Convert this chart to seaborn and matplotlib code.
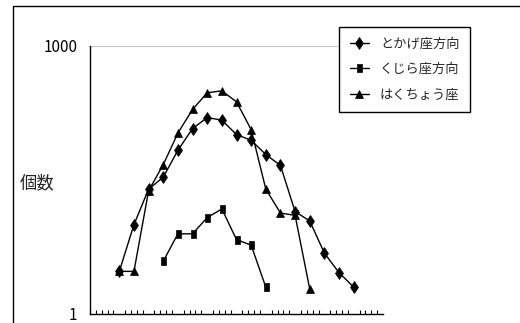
import matplotlib
matplotlib.use('Agg')
import matplotlib.pyplot as plt
import seaborn as sns
import pandas as pd
from matplotlib.lines import Line2D
from matplotlib.patches import Rectangle
from matplotlib.ticker import FixedLocator, MultipleLocator, NullFormatter, NullLocator

# values (log axis, 1..1000)
lizard_x = list(range(2, 19))
lizard_y = [3, 10, 25, 34, 68, 119, 158, 148, 102, 88, 61, 46, 14, 11, 4.8, 2.9, 2.0]
cetus_x = list(range(5, 13))
cetus_y = [3.9, 7.9, 7.9, 12, 15, 6.8, 5.9, 2.0]
cygnus_x = list(range(2, 16))
cygnus_y = [3, 3, 24, 47, 106, 195, 299, 315, 237, 116, 25, 13.5, 12.7, 1.9]
series_names = ["とかげ座方向", "くじら座方向", "はくちょう座"]

df = pd.concat([
    pd.DataFrame({"x": lizard_x, "count": lizard_y, "series": series_names[0]}),
    pd.DataFrame({"x": cetus_x, "count": cetus_y, "series": series_names[1]}),
    pd.DataFrame({"x": cygnus_x, "count": cygnus_y, "series": series_names[2]}),
])

sns.set_theme(style="white")
plt.rcParams['font.family'] = ['Liberation Sans Narrow', 'Noto Sans CJK JP', 'DejaVu Sans']

tall_square = [(-0.6, -1), (0.6, -1), (0.6, 1), (-0.6, 1), (-0.6, -1)]
marker_map = {series_names[0]: "d", series_names[1]: tall_square, series_names[2]: "^"}
size_map = {series_names[0]: 6.0, series_names[1]: 6.0, series_names[2]: 5.5}

fig = plt.figure(figsize=(5.2, 3.23), dpi=100)
ax = fig.add_axes([90 / 520, 1 - 314 / 323, (383 - 90) / 520, (314 - 46) / 323])

for name in series_names:
    sub = df[df["series"] == name]
    sns.lineplot(data=sub, x="x", y="count", ax=ax, color="black", lw=1,
                 marker=marker_map[name], markersize=size_map[name],
                 markeredgecolor="black", markeredgewidth=0.5, legend=False)

ax.set_yscale("log")
ax.set_ylim(1, 1000)
ax.set_xlim(0, 20)
ax.yaxis.set_major_locator(FixedLocator([1, 1000]))
ax.yaxis.set_minor_locator(NullLocator())
ax.set_yticklabels(["1", "1000"])
ax.tick_params(axis="y", length=0, pad=9, labelsize=11, colors="black")

ax.xaxis.set_major_locator(MultipleLocator(2))
ax.xaxis.set_minor_locator(MultipleLocator(0.4))
ax.xaxis.set_major_formatter(NullFormatter())
ax.tick_params(axis="x", which="major", direction="in", length=5, width=0.8, color="black")
ax.tick_params(axis="x", which="minor", direction="in", length=3, width=0.8, color="black", bottom=True)

ax.axhline(1000, color="#c8c8c8", lw=0.8, zorder=0)
ax.set_xlabel("")
ax.set_ylabel("")
for side in ["top", "right"]:
    ax.spines[side].set_visible(False)
for side in ["left", "bottom"]:
    ax.spines[side].set_color("black")
    ax.spines[side].set_linewidth(1)

fig.text(37 / 520, 1 - 183 / 323, "個数", ha="center", va="center", fontsize=12.5,
         family=['Noto Sans CJK JP'])

handles = [Line2D([], [], color="black", lw=1, marker=marker_map[n], markersize=size_map[n],
                  markeredgecolor="black", markeredgewidth=0.5) for n in series_names]
leg = ax.legend(handles, series_names, loc="upper left",
                bbox_to_anchor=(339 / 520, 1 - 27 / 323), bbox_transform=fig.transFigure,
                frameon=True, fancybox=False, edgecolor="black", framealpha=1,
                prop={"family": "Noto Sans CJK JP", "size": 9.5}, borderpad=0.8,
                labelspacing=0.95, handlelength=1.5, handletextpad=0.8, borderaxespad=0)
leg.get_frame().set_linewidth(1)

fig.add_artist(Rectangle((13 / 520, -0.1), 2, 1 - 6 / 323 + 0.1, transform=fig.transFigure,
                         fill=False, ec="black", lw=1))

fig.savefig("out.png", dpi=100)
